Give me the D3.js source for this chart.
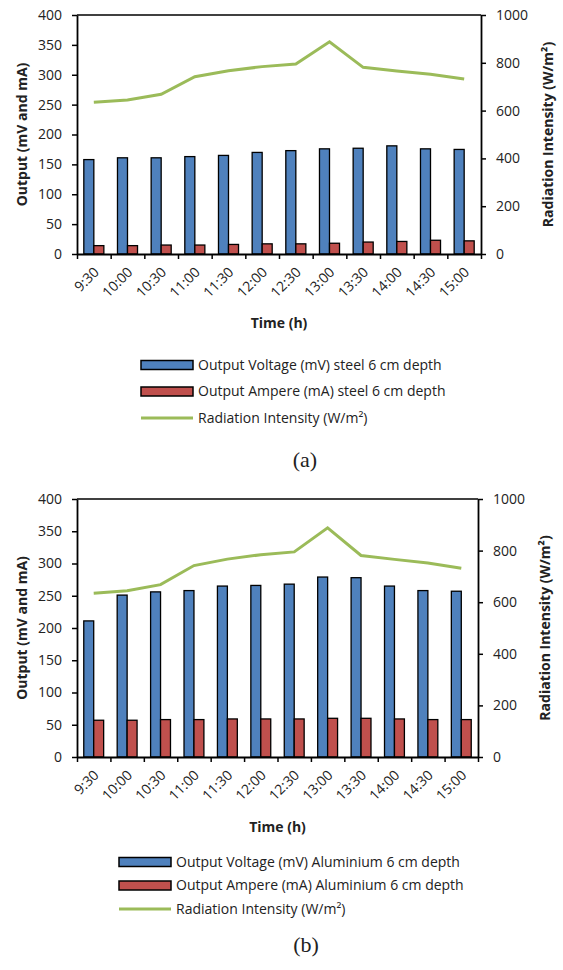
<!DOCTYPE html>
<html>
<head>
<meta charset="utf-8">
<script src="https://cdn.jsdelivr.net/npm/d3@7"></script>
<style>
  body { margin: 0; background: #fff; }
  svg text { font-family: "Open Sans", Lato, sans-serif; fill: #222; }
</style>
</head>
<body>
<div id="d3"></div>
<script>
// time of day (categories)
const times = ["9:30", "10:00", "10:30", "11:00", "11:30", "12:00", "12:30", "13:00", "13:30", "14:00", "14:30", "15:00"];

// panel (a) - steel
const steelVoltage = [158, 161, 161, 163, 165, 170, 173, 176, 177, 181, 176, 175];
const steelAmpere = [14, 14, 15, 15, 16, 17, 17, 18, 20, 21, 23, 22];

// panel (b) - aluminium
const aluVoltage = [211, 251, 256, 258, 265, 266, 268, 279, 278, 265, 258, 257];
const aluAmpere = [57, 57, 58, 58, 59, 59, 59, 60, 60, 59, 58, 58];

// radiation intensity, same in both panels (W/m2)
const radiation = [635, 644, 668, 742, 767, 784, 795, 888, 781, 766, 752, 732];

const leftTicks = [0, 50, 100, 150, 200, 250, 300, 350, 400];
const rightTicks = [0, 200, 400, 600, 800, 1000];

const blue = "#4F81BD", red = "#C0504D", green = "#9BBB59";

const svg = d3.select("#d3")
  .append("svg")
  .attr("width", 563)
  .attr("height", 970);

function drawPanel(cfg) {
  const g = svg.append("g");
  const { left, right, top, bottom } = cfg;

  const x = d3.scaleBand().domain(times).range([left, right]).padding(0);
  const inner = d3.scaleBand().domain(["v", "a"]).range([0, x.bandwidth()]).paddingOuter(0.68);
  const y = d3.scaleLinear().domain([0, 400]).range([bottom, top]);
  const yR = d3.scaleLinear().domain([0, 1000]).range([bottom, top]);

  // bars
  const groups = g.selectAll("g.cat")
    .data(times)
    .enter()
    .append("g")
    .attr("transform", d => `translate(${x(d)},0)`);

  groups.append("rect")
    .attr("x", inner("v"))
    .attr("width", inner.bandwidth())
    .attr("y", (d, i) => y(cfg.voltage[i]))
    .attr("height", (d, i) => bottom - y(cfg.voltage[i]))
    .attr("fill", blue)
    .attr("stroke", "#000")
    .attr("stroke-width", 1.3);

  groups.append("rect")
    .attr("x", inner("a"))
    .attr("width", inner.bandwidth())
    .attr("y", (d, i) => y(cfg.ampere[i]))
    .attr("height", (d, i) => bottom - y(cfg.ampere[i]))
    .attr("fill", red)
    .attr("stroke", "#000")
    .attr("stroke-width", 1.3);

  // radiation line on the secondary axis
  const line = d3.line()
    .x((d, i) => x(times[i]) + x.bandwidth() / 2)
    .y(d => yR(d));

  g.append("path")
    .datum(radiation)
    .attr("d", line)
    .attr("fill", "none")
    .attr("stroke", green)
    .attr("stroke-width", 3);

  // top frame line
  g.append("line")
    .attr("x1", left).attr("x2", right)
    .attr("y1", top).attr("y2", top)
    .attr("stroke", "#000").attr("stroke-width", 1.5);

  // left axis
  const ax = g.append("g")
    .attr("transform", `translate(${left},0)`)
    .call(d3.axisLeft(y).tickValues(leftTicks).tickSize(5).tickPadding(10).tickSizeOuter(0));
  ax.selectAll("text").style("font-size", "14px");

  // right axis
  const axR = g.append("g")
    .attr("transform", `translate(${right},0)`)
    .call(d3.axisRight(yR).tickValues(rightTicks).tickFormat(d3.format("d")).tickSize(5).tickPadding(10).tickSizeOuter(0));
  axR.selectAll("text").style("font-size", "14px");

  // bottom axis: ticks between the categories
  const xb = d3.scaleLinear().domain([0, times.length]).range([left, right]);
  g.append("g")
    .attr("transform", `translate(0,${bottom})`)
    .call(d3.axisBottom(xb).tickValues(d3.range(times.length + 1)).tickSize(5).tickFormat("").tickSizeOuter(0));

  // bottom axis labels
  const axB = g.append("g")
    .attr("transform", `translate(0,${bottom})`)
    .call(d3.axisBottom(x).tickSize(0).tickPadding(0));
  axB.select(".domain").remove();
  axB.selectAll("text")
    .style("font-size", "14px")
    .attr("text-anchor", "end")
    .attr("y", 0)
    .attr("dy", 0)
    .attr("transform", "translate(6,19) rotate(-45)");

  g.selectAll(".domain").attr("stroke-width", 1.8);
  g.selectAll(".tick line").attr("stroke-width", 1.5);

  // axis titles
  g.append("text")
    .attr("transform", `translate(22,${(top + bottom) / 2}) rotate(-90)`)
    .attr("text-anchor", "middle")
    .attr("dy", "0.35em")
    .style("font-size", "14px")
    .style("font-weight", "bold")
    .text("Output (mV and mA)");

  g.append("text")
    .attr("transform", `translate(${cfg.rightTitleX},${(top + bottom) / 2}) rotate(-90)`)
    .attr("text-anchor", "middle")
    .attr("dy", "0.35em")
    .style("font-size", "14px")
    .style("font-weight", "bold")
    .text("Radiation Intensity (W/m²)");

  g.append("text")
    .attr("x", (left + right) / 2)
    .attr("y", cfg.timeY)
    .attr("text-anchor", "middle")
    .attr("dy", "0.35em")
    .style("font-size", "14px")
    .style("font-weight", "bold")
    .text("Time (h)");

  // legend
  const lg = g.append("g").attr("transform", `translate(${cfg.legendX},${cfg.legendY})`);
  const items = [
    { type: "rect", color: blue, label: cfg.labels[0] },
    { type: "rect", color: red, label: cfg.labels[1] },
    { type: "line", color: green, label: "Radiation Intensity (W/m²)" }
  ];
  items.forEach((it, i) => {
    const yy = i * cfg.legendStep;
    if (it.type === "rect") {
      lg.append("rect")
        .attr("x", 0).attr("y", yy - 4.5)
        .attr("width", 52).attr("height", 9)
        .attr("fill", it.color)
        .attr("stroke", "#000").attr("stroke-width", 1.5);
    } else {
      lg.append("line")
        .attr("x1", 0).attr("x2", 52)
        .attr("y1", yy).attr("y2", yy)
        .attr("stroke", it.color).attr("stroke-width", 3);
    }
    lg.append("text")
      .attr("x", 57).attr("y", yy)
      .attr("dy", "0.35em")
      .style("font-size", "14px")
      .text(it.label);
  });

  // caption
  g.append("text")
    .attr("x", cfg.captionX)
    .attr("y", cfg.captionY)
    .attr("text-anchor", "middle")
    .style("font-family", "'Liberation Serif', 'Times New Roman', serif")
    .style("font-size", "22px")
    .text(cfg.caption);
}

drawPanel({
  left: 77, right: 481, top: 15, bottom: 254,
  voltage: steelVoltage, ampere: steelAmpere,
  rightTitleX: 548, timeY: 323,
  legendX: 141, legendY: 365, legendStep: 26.5,
  labels: ["Output Voltage (mV) steel 6 cm depth", "Output Ampere (mA) steel 6 cm depth"],
  captionX: 305, captionY: 467, caption: "(a)"
});

drawPanel({
  left: 77, right: 478, top: 499, bottom: 757,
  voltage: aluVoltage, ampere: aluAmpere,
  rightTitleX: 545, timeY: 827,
  legendX: 119, legendY: 862, legendStep: 23.5,
  labels: ["Output Voltage (mV) Aluminium 6 cm depth", "Output Ampere (mA) Aluminium 6 cm depth"],
  captionX: 306, captionY: 952, caption: "(b)"
});
</script>
</body>
</html>
